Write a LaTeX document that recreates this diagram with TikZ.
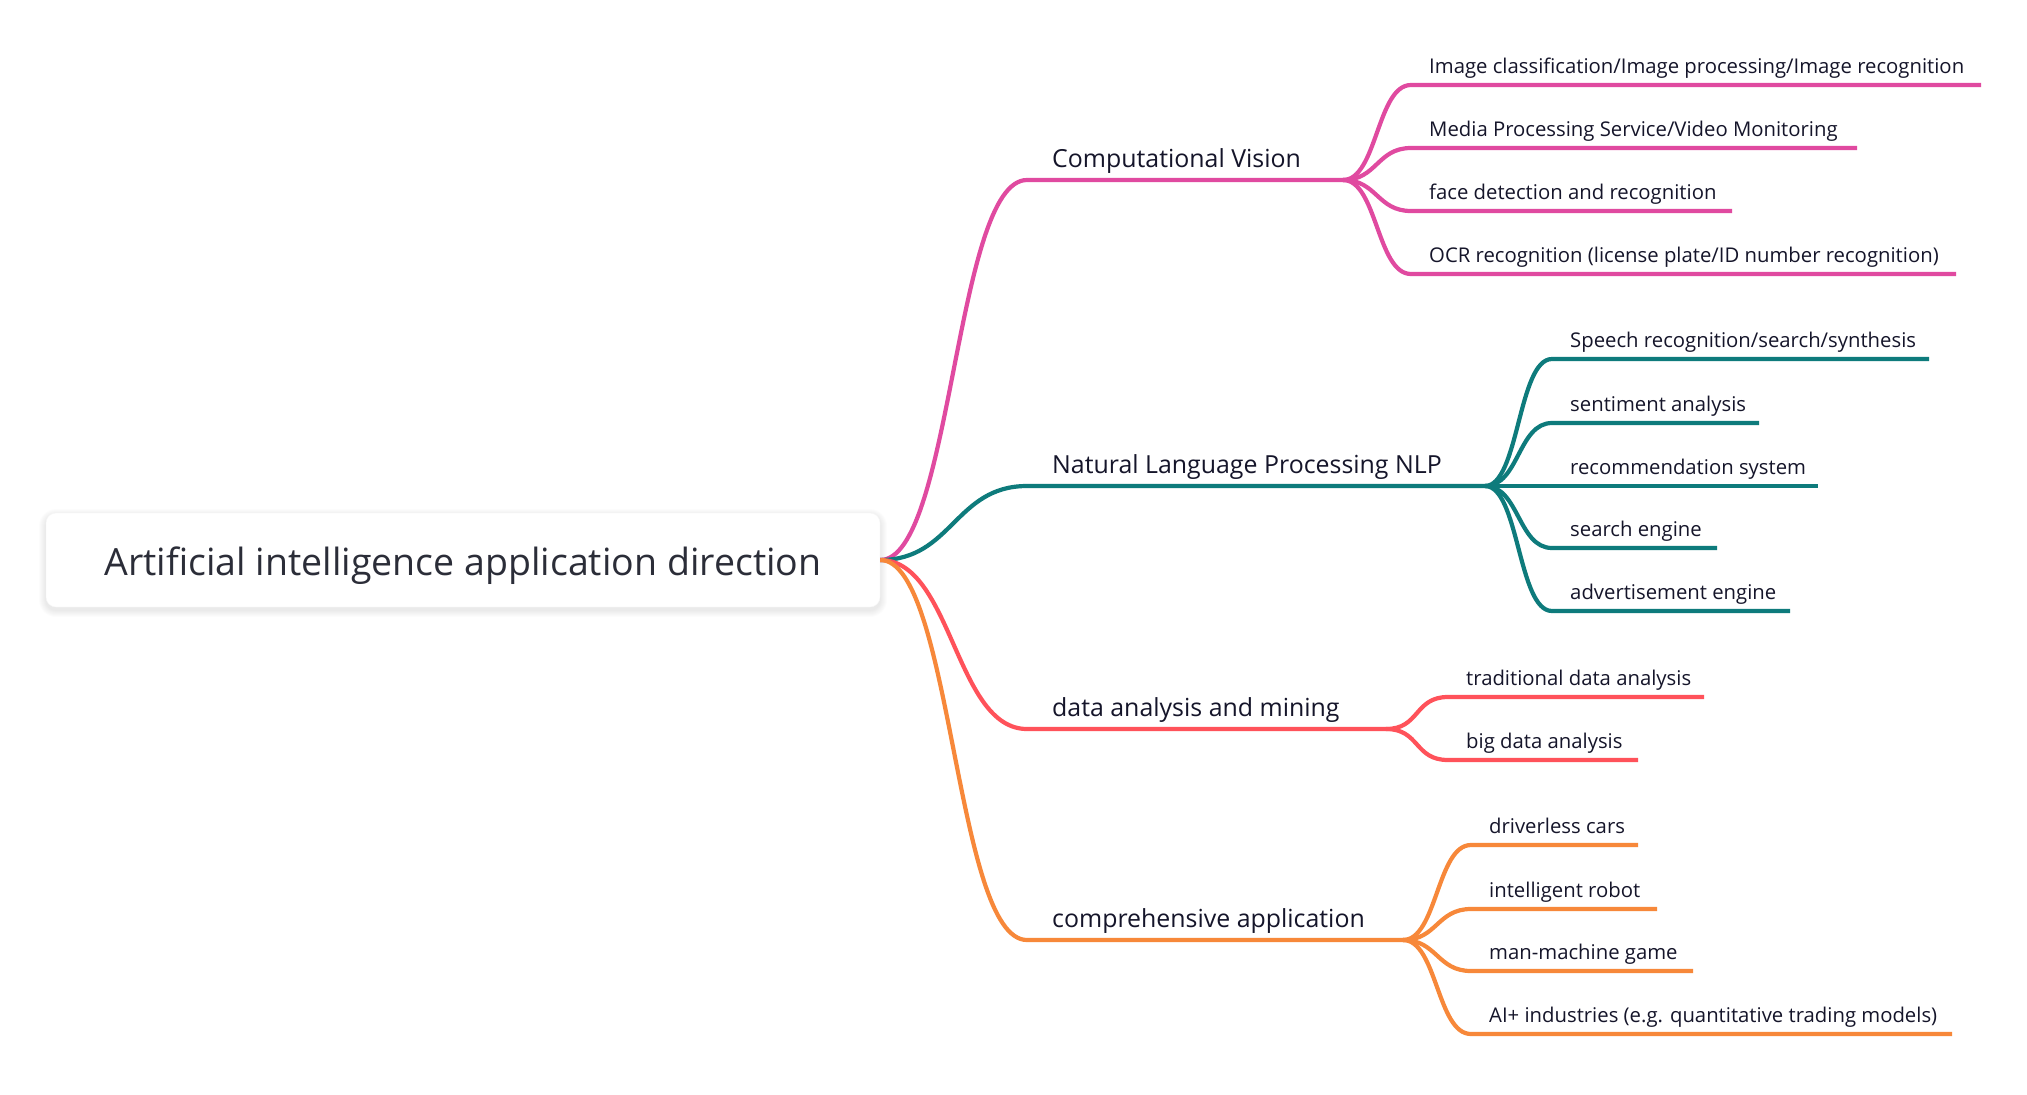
\documentclass[tikz,border=0pt]{standalone}
\usepackage{fontspec}
\setmainfont{Open Sans}
\definecolor{cvcol}{HTML}{E04AA0}
\definecolor{nlpcol}{HTML}{0E7B7C}
\definecolor{dacol}{HTML}{FF525A}
\definecolor{cacol}{HTML}{F7883A}
\definecolor{txt}{HTML}{15152A}
\definecolor{roottxt}{HTML}{2B2D38}
\newcommand\mmleaf[7]{%
  \coordinate (#1a) at (#5-18,#4);
  \coordinate (#1b) at (#6,#4);
  \draw[branch,#2] (#3) .. controls +(34,0) and +(-34,0) .. (#1a) -- (#1b);
  \node[leaflbl] (#1) at (#5,#4-12) {#7};
}
\newcommand\mmmain[5]{% name, colour, y, junction x, text
  \coordinate (#1a) at (1027,#3);
  \coordinate (#1J) at (#4,#3);
  \draw[branch,#2] (root.east) .. controls +(72,0) and +(-72,0) .. (#1a) -- (#1J);
  \node[mainlbl] (#1) at (1052,#3-12.5) {#5};
}
\begin{document}
\begin{tikzpicture}[x=1pt,y=-1pt,
  branch/.style={line width=4.2pt},
  mainlbl/.style={anchor=base west, inner sep=0pt, font=\fontsize{24.9}{29}\selectfont, text=txt},
  leaflbl/.style={anchor=base west, inner sep=0pt, font=\fontsize{20.3}{24}\selectfont, text=txt},
  rootbox/.style={fill=white, draw=black!3, rounded corners=10pt, minimum width=834pt,
    minimum height=94pt, inner sep=0pt, text height=30pt, text depth=0pt,
    font=\fontsize{37.5}{44}\selectfont, text=roottxt}]
\useasboundingbox[fill=white] (0,0) rectangle (2027,1095);
% soft shadow of the root box
\foreach \i in {1,...,7}
  \fill[black, opacity=0.010, rounded corners=10pt+\i pt] (46-\i,516-\i) rectangle (880+\i,610+\i);
\node[rootbox] (root) at (463,560) {Artificial intelligence application direction};
% main branches
\mmmain{cv}{cvcol}{180}{1343}{Computational Vision}
\mmmain{nlp}{nlpcol}{486}{1485}{Natural Language Processing NLP}
\mmmain{da}{dacol}{729}{1386}{data analysis and mining}
\mmmain{ca}{cacol}{940}{1403}{comprehensive application}
% leaves
\mmleaf{cva}{cvcol}{cvJ}{85}{1429}{1981}{Image classification/Image processing/Image recognition}
\mmleaf{cvb}{cvcol}{cvJ}{148}{1429}{1857}{Media Processing Service/Video Monitoring}
\mmleaf{cvc}{cvcol}{cvJ}{211}{1429}{1732}{face detection and recognition}
\mmleaf{cvd}{cvcol}{cvJ}{274}{1429}{1956}{OCR recognition (license plate/ID number recognition)}
\mmleaf{nla}{nlpcol}{nlpJ}{359}{1570}{1929}{Speech recognition/search/synthesis}
\mmleaf{nlb}{nlpcol}{nlpJ}{423}{1570}{1759}{sentiment analysis}
\mmleaf{nlc}{nlpcol}{nlpJ}{486}{1570}{1818}{recommendation system}
\mmleaf{nld}{nlpcol}{nlpJ}{548}{1570}{1717}{search engine}
\mmleaf{nle}{nlpcol}{nlpJ}{611}{1570}{1790}{advertisement engine}
\mmleaf{daa}{dacol}{daJ}{697}{1466}{1704}{traditional data analysis}
\mmleaf{dab}{dacol}{daJ}{760}{1466}{1638}{big data analysis}
\mmleaf{caa}{cacol}{caJ}{845}{1489}{1638}{driverless cars}
\mmleaf{cab}{cacol}{caJ}{909}{1489}{1657}{intelligent robot}
\mmleaf{cac}{cacol}{caJ}{971}{1489}{1693}{man-machine game}
\mmleaf{cad}{cacol}{caJ}{1034}{1489}{1952}{AI+ industries (e.g. quantitative trading models)}
\end{tikzpicture}
\end{document}
